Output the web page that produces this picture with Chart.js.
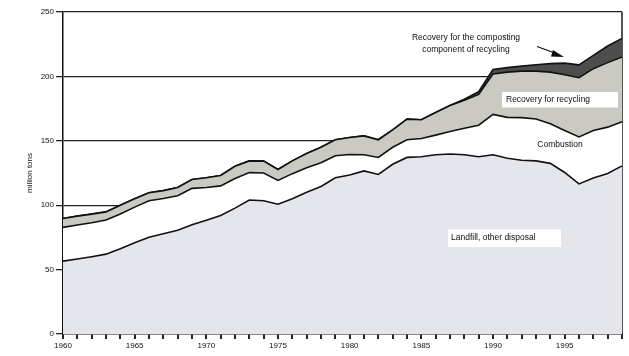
<!DOCTYPE html>
<html>
<head>
<meta charset="utf-8">
<script src="https://cdn.jsdelivr.net/npm/chart.js@4.4.0/dist/chart.umd.min.js"></script>
<style>
  html, body { margin: 0; padding: 0; background: #fff; }
  #wrap { width: 629px; height: 356px; position: relative; }
</style>
</head>
<body>
<div id="wrap"><canvas id="c" width="629" height="356"></canvas></div>
<script>
// ---- data (million tons) ----
const years = [];
for (let y = 1960; y <= 1999; y++) years.push(String(y));
const xTickLabels = ['1960','1965','1970','1975','1980','1985','1990','1995'];
const yTicks = [0, 50, 100, 150, 200, 250];

const landfill = [56.6,58.2,60.0,62.0,66.2,70.8,75.1,77.9,80.5,84.8,
                  88.4,92.0,97.7,104.0,103.4,100.8,105.0,110.0,114.5,121.3,
                  123.5,126.6,123.9,131.8,137.1,137.6,139.2,139.7,139.2,137.6,
                  139.2,136.5,134.9,134.4,132.5,125.4,116.5,121.1,124.6,130.5];
const combustion = [26.2,26.4,26.4,26.5,26.9,27.7,28.3,27.3,26.8,28.3,
                    25.4,23.0,23.0,21.3,21.6,18.4,19.5,19.0,18.4,17.1,
                    15.9,12.6,13.2,13.2,13.7,14.2,15.2,17.5,20.6,24.5,
                    31.3,31.7,33.1,32.5,30.7,32.6,36.5,36.9,36.0,34.3];
const recycling = [6.9,6.9,6.7,6.3,6.9,6.5,6.3,6.1,6.4,6.9,
                   7.5,8.1,9.5,9.1,9.2,8.5,9.9,11.2,12.1,12.4,
                   13.2,14.6,13.7,13.5,16.0,14.5,17.6,20.2,21.7,23.9,
                   31.3,35.1,36.1,37.2,40.1,43.3,46.0,48.0,50.1,50.2];
const composting = [0,0,0,0,0,0,0,0,0,0,
                    0,0,0,0,0,0,0,0,0,0,
                    0,0,0,0,0,0,0,0,0.8,2.2,
                    3.6,3.5,3.9,5.0,6.6,9.0,10.0,10.3,12.9,14.5];

const FONT = 'Liberation Sans, Arial, sans-serif';

const annotations = {
  id: 'annotations',
  afterDraw(chart) {
    const ctx = chart.ctx;
    ctx.save();
    ctx.fillStyle = '#0d0d0d';
    ctx.font = '8.5px ' + FONT;
    ctx.textBaseline = 'middle';
    ctx.textAlign = 'center';
    ctx.fillText('Recovery for the composting', 466, 38);
    ctx.fillText('component of recycling', 466, 50);
    // arrow
    ctx.strokeStyle = '#0d0d0d';
    ctx.lineWidth = 1.2;
    ctx.beginPath();
    ctx.moveTo(537, 46.5);
    ctx.lineTo(556, 53.5);
    ctx.stroke();
    ctx.beginPath();
    ctx.moveTo(564, 57);
    ctx.lineTo(553, 50);
    ctx.lineTo(551, 56.5);
    ctx.closePath();
    ctx.fill();
    // Recovery for recycling box
    ctx.fillStyle = '#ffffff';
    ctx.fillRect(502, 92, 116, 15.5);
    ctx.fillStyle = '#0d0d0d';
    ctx.textAlign = 'left';
    ctx.fillText('Recovery for recycling', 506, 99.5);
    // Combustion
    ctx.textAlign = 'center';
    ctx.fillText('Combustion', 560, 145);
    // Landfill box
    ctx.fillStyle = '#ffffff';
    ctx.fillRect(448, 229.5, 113, 17.5);
    ctx.fillStyle = '#0d0d0d';
    ctx.textAlign = 'left';
    ctx.fillText('Landfill, other disposal', 451, 238);
    ctx.restore();
  }
};

const common = { pointRadius: 0, borderColor: '#111', borderWidth: 1.6, tension: 0 };

new Chart(document.getElementById('c'), {
  type: 'line',
  data: {
    labels: years,
    datasets: [
      Object.assign({ label: 'Landfill, other disposal', data: landfill, fill: 'origin', backgroundColor: '#e5e5ec' }, common),
      Object.assign({ label: 'Combustion', data: combustion, fill: '-1', backgroundColor: '#ffffff' }, common),
      Object.assign({ label: 'Recovery for recycling', data: recycling, fill: '-1', backgroundColor: '#cacac2' }, common),
      Object.assign({ label: 'Recovery for the composting component of recycling', data: composting, fill: '-1', backgroundColor: '#4d4d4d' }, common)
    ]
  },
  options: {
    responsive: false,
    animation: false,
    devicePixelRatio: 1,
    layout: { padding: { top: 12, right: 7, left: 0, bottom: 0 } },
    plugins: { legend: { display: false }, tooltip: { enabled: false } },
    elements: { line: { borderJoinStyle: 'miter' } },
    scales: {
      x: {
        type: 'category',
        offset: false,
        afterFit(s) { s.height = 22; },
        border: { display: true, color: '#111', width: 1.5 },
        grid: {
          display: true,
          drawOnChartArea: true,
          color: (c) => (c.index === years.length - 1 ? '#555' : 'rgba(0,0,0,0)'),
          lineWidth: 2,
          tickColor: '#222',
          tickLength: 5
        },
        ticks: {
          autoSkip: false,
          maxRotation: 0,
          minRotation: 0,
          padding: 2,
          color: '#111',
          font: { family: FONT, size: 8 },
          callback: function(v, i) { const l = years[i]; return xTickLabels.includes(l) ? l : ''; }
        }
      },
      y: {
        stacked: true,
        min: 0,
        max: 250,
        afterFit(s) { s.width = 63; },
        afterBuildTicks(s) { s.ticks = yTicks.map(v => ({ value: v })); },
        border: { display: true, color: '#111', width: 1.5 },
        grid: {
          color: (c) => (c.tick && c.tick.value === 0 ? 'rgba(0,0,0,0)' : '#222'),
          lineWidth: 1.3,
          tickColor: '#222',
          tickLength: 7
        },
        ticks: {
          padding: 2,
          color: '#111',
          font: { family: FONT, size: 8 }
        },
        title: {
          display: true,
          text: 'million tons',
          color: '#111',
          font: { family: FONT, size: 8 },
          padding: { top: 25, bottom: 0 }
        }
      }
    }
  },
  plugins: [annotations]
});
</script>
</body>
</html>
